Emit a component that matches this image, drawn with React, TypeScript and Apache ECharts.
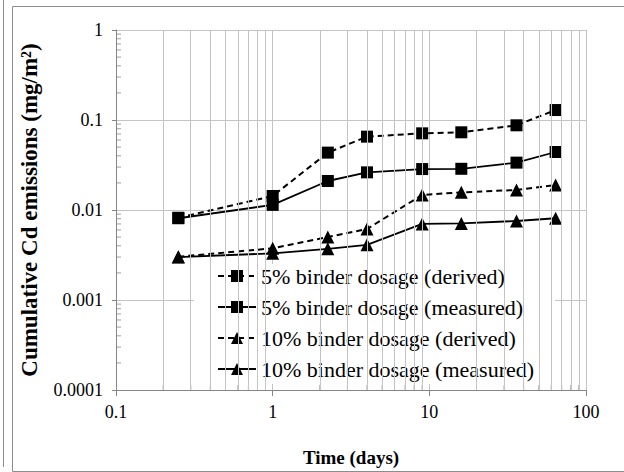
import React, { useEffect, useRef } from "react";
import * as echarts from "echarts";

// Leaching times (days)
const days = [0.25, 1, 2.25, 4, 9, 16, 36, 64];
// Cumulative Cd emissions (mg/m2)
const binder5Derived = [0.0082, 0.0143, 0.0434, 0.0653, 0.0711, 0.073, 0.0873, 0.129];
const binder5Measured = [0.0081, 0.0114, 0.021, 0.0262, 0.0285, 0.0287, 0.0336, 0.0441];
const binder10Derived = [0.00303, 0.00375, 0.005, 0.00615, 0.0147, 0.0157, 0.0167, 0.019];
const binder10Measured = [0.003, 0.0033, 0.0037, 0.0041, 0.007, 0.0071, 0.00755, 0.0081];

const seriesNames = [
  "5% binder dosage (derived)",
  "5% binder dosage (measured)",
  "10% binder dosage (derived)",
  "10% binder dosage (measured)",
];

// Minor (2..9) positions of the log axes
const xMinorValues = [
  0.2, 0.3, 0.4, 0.5, 0.6, 0.7, 0.8, 0.9,
  2, 3, 4, 5, 6, 7, 8, 9,
  20, 30, 40, 50, 60, 70, 80, 90,
];
const yMinorValues = [
  0.0002, 0.0003, 0.0004, 0.0005, 0.0006, 0.0007, 0.0008, 0.0009,
  0.002, 0.003, 0.004, 0.005, 0.006, 0.007, 0.008, 0.009,
  0.02, 0.03, 0.04, 0.05, 0.06, 0.07, 0.08, 0.09,
  0.2, 0.3, 0.4, 0.5, 0.6, 0.7, 0.8, 0.9,
];

const xMin = 0.1;
const xMax = 100;
const yMin = 0.0001;
const yMax = 1;

const FONT = "Liberation Serif";
const GRID = "#c4c4c4";
const AXIS = "#868686";

function pair(ys: number[]) {
  return days.map((d, i) => [d, ys[i]]);
}

function fmt(v: number) {
  return String(parseFloat(Number(v).toPrecision(6)));
}

export default function App() {
  const ref = useRef<HTMLDivElement>(null);

  useEffect(() => {
    if (!ref.current) return;
    const chart = echarts.init(ref.current, null, { renderer: "svg" });

    const dashed = [6, 4];

    const option: any = {
      animation: false,
      backgroundColor: "#fff",
      textStyle: { fontFamily: FONT },
      grid: { left: 116, top: 30, width: 470, height: 360, containLabel: false },
      xAxis: {
        type: "log",
        logBase: 10,
        min: xMin,
        max: xMax,
        name: "Time (days)",
        nameLocation: "middle",
        nameGap: 58,
        nameTextStyle: { fontFamily: FONT, fontWeight: "bold", fontSize: 19, color: "#000" },
        axisLine: { show: true, lineStyle: { color: AXIS, width: 1 } },
        axisTick: { show: true, inside: false, length: 6, lineStyle: { color: AXIS } },
        axisLabel: { fontFamily: FONT, fontSize: 18, color: "#000", margin: 13, formatter: fmt },
        splitLine: { show: true, lineStyle: { color: GRID, width: 1 } },
      },
      yAxis: {
        type: "log",
        logBase: 10,
        min: yMin,
        max: yMax,
        name: "Cumulative Cd emissions (mg/m²)",
        nameLocation: "middle",
        nameGap: 75,
        nameTextStyle: { fontFamily: FONT, fontWeight: "bold", fontSize: 23, color: "#000" },
        axisLine: { show: true, lineStyle: { color: AXIS, width: 1 } },
        axisTick: { show: true, inside: false, length: 4, lineStyle: { color: AXIS } },
        axisLabel: { fontFamily: FONT, fontSize: 18, color: "#000", margin: 13, formatter: fmt },
        splitLine: { show: true, lineStyle: { color: GRID, width: 1 } },
      },
      legend: {
        data: seriesNames,
        orient: "vertical",
        left: 194,
        top: 264,
        padding: [1, 21, 4, 23],
        itemGap: 9,
        itemWidth: 38,
        itemHeight: 15,
        backgroundColor: "#fff",
        selectedMode: false,
        textStyle: { fontFamily: FONT, fontSize: 22, color: "#000", lineHeight: 22 },
      },
      series: [
        {
          name: "xMinor",
          type: "scatter",
          silent: true,
          z: 1,
          symbol: "rect",
          symbolSize: [1, 5],
          symbolOffset: [0, -2.5],
          itemStyle: { color: AXIS },
          data: xMinorValues.map((v) => [v, yMin]),
          markLine: {
            silent: true,
            symbol: "none",
            label: { show: false },
            lineStyle: { color: GRID, width: 1, type: "solid" },
            data: xMinorValues.map((v) => ({ xAxis: v })),
          },
        },
        {
          name: "yMinor",
          type: "scatter",
          silent: true,
          z: 1,
          symbol: "rect",
          symbolSize: [5, 1],
          symbolOffset: [2.5, 0],
          itemStyle: { color: AXIS },
          data: yMinorValues.map((v) => [xMin, v]),
        },
        {
          name: seriesNames[0],
          type: "line",
          data: pair(binder5Derived),
          symbol: "rect",
          symbolSize: 12,
          z: 3,
          lineStyle: { color: "#000", width: 2, type: dashed },
          itemStyle: { color: "#000" },
        },
        {
          name: seriesNames[1],
          type: "line",
          data: pair(binder5Measured),
          symbol: "rect",
          symbolSize: 12,
          z: 3,
          lineStyle: { color: "#000", width: 1.8, type: "solid" },
          itemStyle: { color: "#000" },
        },
        {
          name: seriesNames[2],
          type: "line",
          data: pair(binder10Derived),
          symbol: "triangle",
          symbolSize: 13,
          z: 3,
          lineStyle: { color: "#000", width: 2, type: dashed },
          itemStyle: { color: "#000" },
        },
        {
          name: seriesNames[3],
          type: "line",
          data: pair(binder10Measured),
          symbol: "triangle",
          symbolSize: 13,
          z: 3,
          lineStyle: { color: "#000", width: 1.8, type: "solid" },
          itemStyle: { color: "#000" },
        },
      ],
      graphic: [
        {
          type: "rect",
          silent: true,
          shape: { x: 12.5, y: 6.5, width: 640, height: 465 },
          style: { fill: "none", stroke: "#8c8c8c", lineWidth: 1 },
        },
        {
          type: "line",
          silent: true,
          shape: { x1: 3.5, y1: 0, x2: 3.5, y2: 467 },
          style: { stroke: "#8c8c8c", lineWidth: 1 },
        },
      ],
    };

    chart.setOption(option);
    return () => chart.dispose();
  }, []);

  return (
    <div
      ref={ref}
      style={{ position: "absolute", left: 0, top: 0, width: 624, height: 472 }}
    />
  );
}
